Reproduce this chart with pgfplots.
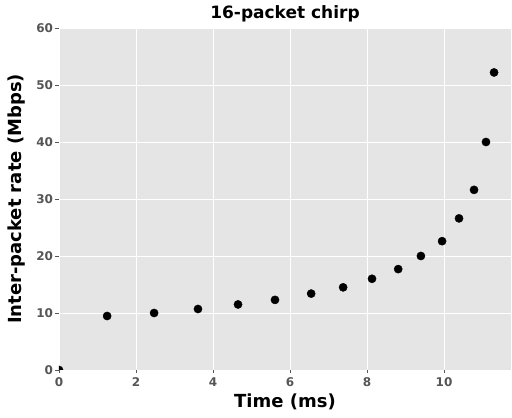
\documentclass[border=0pt]{standalone}
\usepackage{fontspec}
\setmainfont{DejaVu Sans}
\usepackage{pgfplots}
\pgfplotsset{compat=1.18}
\definecolor{panel}{HTML}{E5E5E5}
\definecolor{ticklab}{HTML}{555555}

\begin{document}
\begin{tikzpicture}
  \begin{axis}[
    scale only axis,
    width=452pt,height=342pt,
    xmin=0,xmax=11.74,
    ymin=0,ymax=60,
    xtick={0,2,4,6,8,10},
    ytick={0,10,20,30,40,50,60},
    axis background/.style={fill=panel},
    axis line style={draw=none},
    grid=major,
    grid style={white,line width=0.9pt},
    tick align=outside,
    major tick length=3.5pt,
    tick style={ticklab,line width=0.7pt},
    xtick pos=bottom,ytick pos=left,
    tick label style={font=\fontsize{12}{14}\selectfont\bfseries,text=ticklab},
    xticklabel style={yshift=-1pt},
    yticklabel style={xshift=1pt},
    /pgf/number format/assume math mode=true,
    title={16-packet chirp},
    title style={font=\fontsize{17}{19}\selectfont\bfseries,yshift=-4pt},
    xlabel={Time (ms)},
    ylabel={Inter-packet rate (Mbps)},
    label style={font=\fontsize{18}{20}\selectfont\bfseries},
    xlabel style={yshift=0pt},
    ylabel style={yshift=4pt},
    clip=true,
    clip marker paths=true,
  ]
    \addplot[only marks,mark=*,mark size=4.1pt,black] coordinates {
      (0,0) (1.25,9.47) (2.47,10.0) (3.61,10.7) (4.65,11.5) (5.61,12.3)
      (6.55,13.4) (7.38,14.5) (8.13,16.0) (8.81,17.7) (9.40,20.0)
      (9.95,22.6) (10.39,26.6) (10.78,31.6) (11.09,40.0) (11.30,52.2)
    };
    \coordinate (bl) at (rel axis cs:0,0);
    \coordinate (tr) at (rel axis cs:1,1);
  \end{axis}
  \pgfresetboundingbox
  \path[use as bounding box] ([xshift=-59pt,yshift=-48pt]bl) rectangle ([xshift=1pt,yshift=28pt]tr);
\end{tikzpicture}
\end{document}
